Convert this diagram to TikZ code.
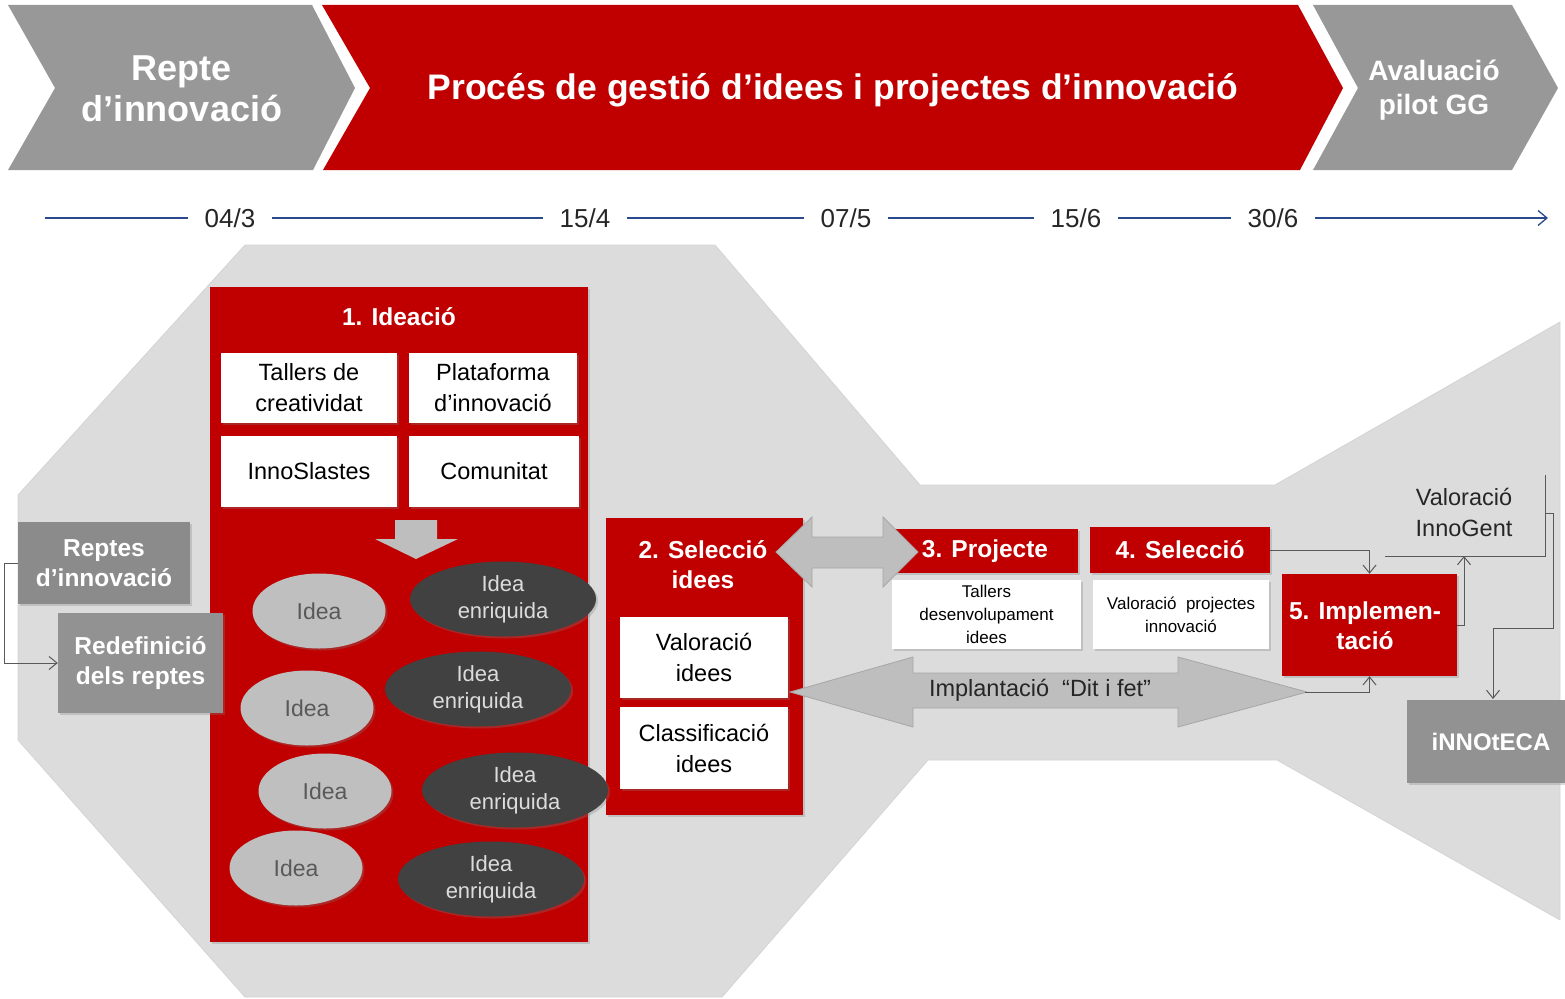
\documentclass[tikz,border=0pt]{standalone}
\usepackage{fontspec}
\setmainfont{Liberation Sans}
\usetikzlibrary{shapes.geometric,shadows,arrows.meta}
\definecolor{ccred}{HTML}{C00000}
\definecolor{chevgray}{HTML}{989898}
\definecolor{bggray}{HTML}{DCDCDC}
\definecolor{boxgray}{HTML}{929292}
\definecolor{idealight}{HTML}{BFBFBF}
\definecolor{ideadark}{HTML}{414141}
\definecolor{arrgray}{HTML}{BEBEBE}
\definecolor{linegray}{HTML}{595959}
\definecolor{timeblue}{HTML}{2B4A8E}

\begin{document}
\begin{tikzpicture}
[x=1pt,y=-1pt,
every node/.style={inner sep=0pt,align=center},
boxshadow/.style={drop shadow={shadow xshift=2pt,shadow yshift=-2pt,opacity=.3}},
redbox/.style={fill=ccred,boxshadow},
whitebox/.style={fill=white,text=black,boxshadow,font=\fontsize{23.5}{31}\selectfont},
smallbox/.style={whitebox,font=\fontsize{17}{23}\selectfont},
head/.style={text=white,font=\bfseries\fontsize{24.5}{30}\selectfont},
greybox/.style={fill=boxgray,text=white,boxshadow,font=\bfseries\fontsize{24.5}{30}\selectfont},
idea/.style={ellipse,fill=idealight,text=linegray,boxshadow,minimum width=133pt,minimum height=75pt,font=\fontsize{23}{27}\selectfont},
rich/.style={ellipse,fill=ideadark,text=bggray,boxshadow,minimum width=186pt,minimum height=75pt,font=\fontsize{22}{27}\selectfont},
blockarrow/.style={fill=arrgray,draw=black!35,line width=.8pt},
conn/.style={draw=linegray,line width=1pt,-{Straight Barb[length=8pt,width=13pt]}},
datelbl/.style={fill=white,inner xsep=17pt,inner ysep=3pt,text=black!85,font=\fontsize{26}{30}\selectfont}]
\useasboundingbox (0,0) rectangle (1565,998);

\fill[chevgray] (8,5) -- (312,5) -- (355,88) -- (313,170) -- (8,170) -- (55,88) -- cycle;
\fill[ccred] (322,5) -- (1298,5) -- (1343,88) -- (1300,170) -- (323,170) -- (370,88) -- cycle;
\fill[chevgray] (1313,5) -- (1512,5) -- (1558,88) -- (1512,170) -- (1313,170) -- (1358,88) -- cycle;
\node[text=white,font=\bfseries\fontsize{36}{41}\selectfont] (repte) at (182,89) {Repte\\d’innovació};
\node[text=white,font=\bfseries\fontsize{35.5}{40}\selectfont] (proces) at (833,90) {Procés de gestió d’idees i projectes d’innovació};
\node[text=white,font=\bfseries\fontsize{28}{34}\selectfont] (avaluacio) at (1434,90) {Avaluació\\pilot GG};

\coordinate (tstart) at (45,218);
\coordinate (tend) at (1548,218);
\draw[timeblue,line width=1.3pt,-{Straight Barb[length=9pt,width=15pt]}] (tstart) -- (tend);
\node[datelbl] (d1) at (230,218) {04/3};
\node[datelbl] (d2) at (585,218) {15/4};
\node[datelbl] (d3) at (846,218) {07/5};
\node[datelbl] (d4) at (1076,218) {15/6};
\node[datelbl] (d5) at (1273,218) {30/6};

\filldraw[fill=bggray,draw=black!17,line width=.8pt] (245,245) -- (715,245) -- (920,485) -- (1275,485) -- (1560,322) -- (1560,920)
  -- (1277,760) -- (928,760) -- (722,997) -- (245,997) -- (18,740) -- (18,495) -- cycle;

\node[redbox,minimum width=378pt,minimum height=655pt] (ideacio) at (399,614.5) {};
\node[head] (ideaciot) at (399,317) {1. Ideació};
\node[whitebox,minimum width=176pt,minimum height=70pt] (tallers) at (309,388) {Tallers de\\creatividat};
\node[whitebox,minimum width=168pt,minimum height=70pt] (plataforma) at (493,388) {Plataforma\\d’innovació};
\node[whitebox,minimum width=176pt,minimum height=71pt] (innoslastes) at (309,471) {InnoSlastes};
\node[whitebox,minimum width=170pt,minimum height=71pt] (comunitat) at (494,471) {Comunitat};
\fill[arrgray] (395,520) -- (437,520) -- (437,539) -- (458,539) -- (416,559) -- (375,539) -- (395,539) -- cycle;

\node[greybox,fill=boxgray!95!black,minimum width=172pt,minimum height=82pt] (reptes) at (104,563) {Reptes\\d’innovació};
\node[greybox,minimum width=165pt,minimum height=100pt] (redef) at (140.5,663) {Redefinició\\dels reptes};
\draw[conn] (reptes.west) -- ++(-13,0) |- (redef.west);

\node[redbox,minimum width=197pt,minimum height=297pt] (seleccio) at (704.5,666.5) {};
\node[head] (selecciot) at (703,565) {2. Selecció\\idees};
\node[whitebox,minimum width=168pt,minimum height=81pt] (valoracio) at (704,657.5) {Valoració\\idees};
\node[whitebox,minimum width=168pt,minimum height=82pt] (classif) at (704,748) {Classificació\\idees};

\foreach \n/\cx/\cy in {1/319/611, 2/307/708, 3/325/791, 4/296/868}
  \node[idea] (idea\n) at (\cx,\cy) {Idea};
\foreach \n/\cx/\cy in {1/503/599, 2/478/689, 3/515/790, 4/491/879}
  \node[rich] (rich\n) at (\cx,\cy) {Idea\\enriquida};

\node[redbox,minimum width=186pt,minimum height=44pt] (projecte) at (985,551) {};
\node[head] (projectet) at (985,551) {3. Projecte};
\node[smallbox,minimum width=189pt,minimum height=69pt] (tallersdes) at (986.5,614.5) {Tallers\\desenvolupament\\idees};
\node[redbox,minimum width=180pt,minimum height=46pt] (seleccio4) at (1180,550) {};
\node[head] (seleccio4t) at (1180,550) {4. Selecció};
\node[smallbox,minimum width=176pt,minimum height=69pt] (valproj) at (1181,614.5) {Valoració\ \ projectes\\innovació};
\node[redbox,minimum width=175pt,minimum height=102pt] (impl) at (1369.5,625) {};
\node[head] (implt) at (1365,626) {5. Implemen-\\tació};
\node[greybox,minimum width=158pt,minimum height=83pt] (innoteca) at (1486,741.5) {};
\node[text=white,font=\bfseries\fontsize{24}{30}\selectfont] (innotecat) at (1491,741.5) {iNNOtECA};
\node[text=black!85,font=\fontsize{23.5}{31}\selectfont] (innogent) at (1464,512) {Valoració\\InnoGent};

\filldraw[blockarrow] (776,552) -- (812,517) -- (812,537) -- (883,537) -- (883,517) -- (918,552)
  -- (883,587) -- (883,568) -- (812,568) -- (812,587) -- cycle;
\filldraw[blockarrow] (790,692) -- (913,657) -- (913,673) -- (1178,673) -- (1178,657) -- (1307,692)
  -- (1178,727) -- (1178,708) -- (913,708) -- (913,727) -- cycle;
\node[text=black!85,font=\fontsize{23.5}{28}\selectfont] (ditifet) at (1040,690) {Implantació\ \ “Dit i fet”};

\coordinate (ditend) at (1305,692);
\coordinate (vgin) at (1464,556);
\coordinate (vgleft) at (1385,556);
\coordinate (vgright) at (1545,556);
\coordinate (vgtop) at (1545,475);
\coordinate (vgout) at (1545,513);
\draw[conn] (seleccio4.east) -| (impl.north);
\draw[conn] (ditend) -| (impl.south);
\draw[conn] (impl.east) -| (vgin);
\draw[draw=linegray,line width=1pt] (vgleft) -- (vgright) -- (vgtop);
\draw[conn] (vgout) -- ++(8,0) |- (1493,628) -- (1493,699);
\end{tikzpicture}
\end{document}
